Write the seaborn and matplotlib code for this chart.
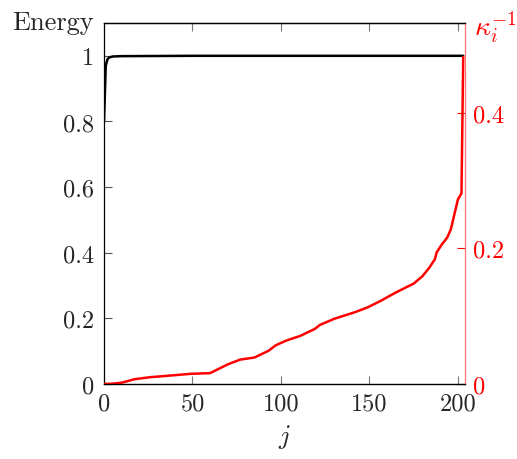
import matplotlib
matplotlib.use("Agg")
import matplotlib.pyplot as plt
import seaborn as sns
import numpy as np
import pandas as pd

# ---- data ----
j_energy = [0, 1, 2, 3, 5, 10, 50, 100, 150, 203]
energy = [0.80, 0.97, 0.99, 0.995, 0.998, 0.999, 1.0, 1.0, 1.0, 1.0]

j_kappa = [0, 5, 10, 13, 17, 26, 40, 49, 60, 63, 70, 77, 85, 93, 97, 103,
           111, 119, 122, 130, 142, 149, 156, 165, 175, 180, 184, 187, 188,
           191, 194, 196, 198, 200, 202, 203]
kappa_inv = [0.0, 0.0005, 0.002, 0.004, 0.007, 0.010, 0.013, 0.015, 0.016,
             0.020, 0.029, 0.036, 0.039, 0.049, 0.057, 0.064, 0.071, 0.081,
             0.087, 0.096, 0.106, 0.113, 0.122, 0.135, 0.148, 0.159, 0.172,
             0.184, 0.194, 0.206, 0.216, 0.228, 0.250, 0.272, 0.281, 0.482]

x_ticks = [0, 50, 100, 150, 200]
x_ticklabels = ["0", "50", "100", "150", "200"]
left_ticks = [0, 0.2, 0.4, 0.6, 0.8, 1.0]
left_ticklabels = ["0", "0.2", "0.4", "0.6", "0.8", "1"]
right_ticks = [0, 0.2, 0.4]
right_ticklabels = ["0", "0.2", "0.4"]

sns.set_style("ticks")
plt.rcParams["font.family"] = ["cmr10", "DejaVu Serif"]
plt.rcParams["mathtext.fontset"] = "cm"
plt.rcParams["axes.unicode_minus"] = False

W, H = 517, 460
fig = plt.figure(figsize=(W / 100, H / 100), dpi=100)
L, R, B, T = 104, 465, 385, 24
ax = fig.add_axes([L / W, 1 - B / H, (R - L) / W, (B - T) / H])
ax2 = ax.twinx()

df_e = pd.DataFrame({"j": j_energy, "E": energy})
df_k = pd.DataFrame({"j": j_kappa, "k": kappa_inv})

sns.lineplot(data=df_e, x="j", y="E", ax=ax, color="black", linewidth=1.8)
sns.lineplot(data=df_k, x="j", y="k", ax=ax2, color="#ff0000", linewidth=1.8)

ax.set_xlim(0, 204)
ax.set_ylim(0, 1.1)
ax2.set_ylim(0, 0.532)

fs = 17.5
ax.set_xticks(x_ticks)
ax.set_xticklabels(x_ticklabels, fontsize=fs)
ax.set_yticks(left_ticks)
ax.set_yticklabels(left_ticklabels, fontsize=fs)
ax2.set_yticks(right_ticks)
ax2.set_yticklabels(right_ticklabels, fontsize=fs, color="#ff0000")

ax.tick_params(axis="x", direction="in", top=True, bottom=True, length=6,
               width=0.8, color="#777777", pad=6)
ax.tick_params(axis="y", direction="in", left=True, right=False, length=6,
               width=0.8, color="#555555", pad=7)
ax2.tick_params(axis="y", direction="in", right=True, length=6, width=0.8,
                color="#ff0000", pad=6)

for a in (ax, ax2):
    for s in a.spines.values():
        s.set_linewidth(0.9)
        s.set_color("black")
ax2.spines["right"].set_color("#ff7070")
ax.spines["right"].set_visible(False)
ax2.spines["left"].set_visible(False)
ax.spines["bottom"].set_color("#444444")

ax.set_xlabel("")
ax.set_ylabel("")
ax2.set_ylabel("")

fig.text(12 / W, 1 - 30 / H, "Energy", fontsize=19, ha="left", va="baseline")
fig.text(474 / W, 1 - 36 / H, r"$\kappa_i^{-1}$", fontsize=20, color="#ff0000",
         ha="left", va="baseline")
fig.text((L + R) / 2 / W, 1 - 437 / H, r"$j$", fontsize=19, ha="center",
         va="center")

fig.savefig("out.png", dpi=100)
